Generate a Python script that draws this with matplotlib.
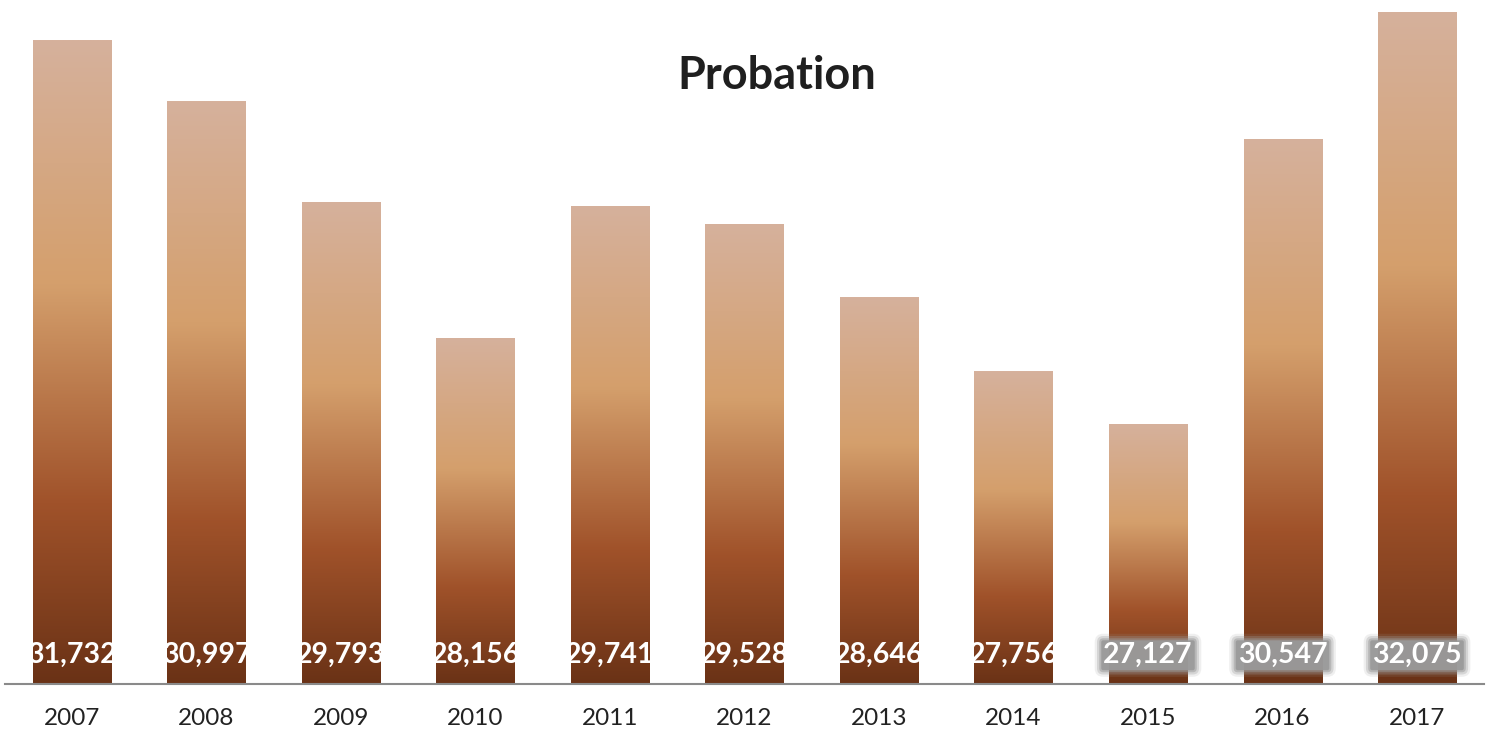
import numpy as np
import matplotlib.pyplot as plt
from matplotlib.colors import LinearSegmentedColormap
from matplotlib.patches import Rectangle

years = ["2007", "2008", "2009", "2010", "2011", "2012", "2013", "2014", "2015", "2016", "2017"]
probation = [31732, 30997, 29793, 28156, 29741, 29528, 28646, 27756, 27127, 30547, 32075]
glow_years = ["2015", "2016", "2017"]  # labels drawn with grey halo in the original

plt.rcParams["font.family"] = ["Lato", "DejaVu Sans"]

# gradient bottom -> top
grad = LinearSegmentedColormap.from_list(
    "bronze", [(0.0, "#6a3216"), (0.28, "#a0522a"), (0.62, "#d49f6c"), (1.0, "#d6b19c")])

fig = plt.figure(figsize=(14.91, 7.31), dpi=100)
ax = fig.add_axes([0.0, 47 / 731, 1.0, 684 / 731])

ymin = 24000
ymax = ymin + 684 / 0.08327
ax.set_ylim(ymin, ymax)
ax.set_xlim(-0.535, 10.55)

x = np.arange(len(years))
width = 0.58
g = np.linspace(0, 1, 256).reshape(-1, 1)
label_y = ymin + 345

for i, v in enumerate(probation):
    x0 = x[i] - width / 2
    rect = Rectangle((x0, ymin), width, v - ymin, facecolor="none", edgecolor="none")
    ax.add_patch(rect)
    im = ax.imshow(g, cmap=grad, origin="lower", aspect="auto",
                   extent=(x0, x0 + width, ymin, v), zorder=2)
    im.set_clip_path(rect)

    lab = f"{v:,}"
    if years[i] in glow_years:
        # soft grey box behind the label (layers fake the blur)
        for pad, a in [(0.3, 0.15), (0.22, 0.3), (0.14, 0.5), (0.07, 0.9)]:
            ax.text(x[i], label_y, lab, ha="center", va="center", color="none",
                    fontsize=20.5, fontweight="bold", zorder=3,
                    bbox=dict(boxstyle=f"round,pad={pad}", fc="#9a9a9a", ec="none", alpha=a))
        ax.text(x[i], label_y, lab, ha="center", va="center", color="white",
                fontsize=20.5, fontweight="bold", zorder=4)
    else:
        t = ax.text(x[i], label_y, lab, ha="center", va="center", color="white",
                    fontsize=20.5, fontweight="bold", zorder=4)
        t.set_clip_path(rect)

ax.set_xticks(x)
ax.set_xticklabels(years, fontsize=17.5, color="#222222")
ax.tick_params(axis="x", length=0, pad=17)
ax.set_yticks([])
for s in ["top", "right", "left"]:
    ax.spines[s].set_visible(False)
ax.spines["bottom"].set_color("#8a8a8a")
ax.spines["bottom"].set_linewidth(1.5)
ax.spines["bottom"].set_bounds(-0.5, 10.5)

fig.text(777 / 1491, 1 - 76 / 731, "Probation", ha="center", va="center",
         fontsize=32.5, fontweight="bold", color="#1f1f1f")

fig.savefig("out.png", dpi=100)
